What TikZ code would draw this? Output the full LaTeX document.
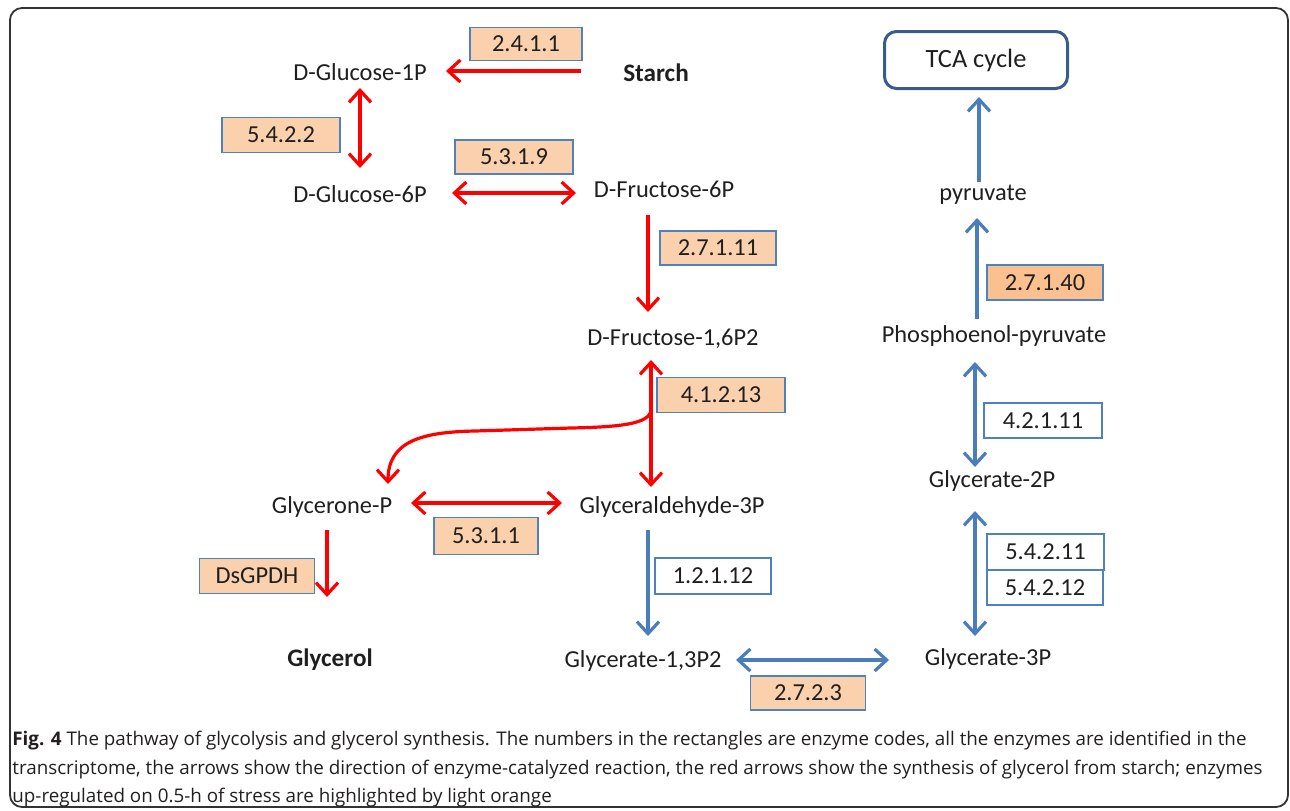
\documentclass[tikz,border=0pt]{standalone}
\usepackage{fontspec}
\setmainfont{Carlito}
\newfontfamily\capfont{Open Sans}
\usetikzlibrary{arrows.meta,calc}
\definecolor{lorange}{HTML}{FBD0AC}
\definecolor{dorange}{HTML}{FAC08F}
\definecolor{boxblue}{HTML}{4F81BD}
\definecolor{arrblue}{HTML}{4A7EBB}
\definecolor{tcablue}{HTML}{385D8A}
\definecolor{captxt}{HTML}{231F20}
\begin{document}
\begin{tikzpicture}[x=0.5pt,y=-0.5pt,
  >={Straight Barb[length=6pt,width=11pt]},
  lbl/.style={inner sep=0pt, font=\fontsize{12.2}{14}\selectfont, text=black!88},
  blbl/.style={lbl, font=\fontsize{12.6}{14}\selectfont\bfseries},
  enz/.style={draw=boxblue, line width=0.75pt, fill=lorange, inner sep=0pt,
    font=\fontsize{12.2}{14}\selectfont, text=black!88},
  enzw/.style={enz, fill=white},
  enzd/.style={enz, fill=dorange},
  redarr/.style={draw=red, line width=1.6pt},
  bluarr/.style={draw=arrblue, line width=1.6pt},
  capline/.style={anchor=base west, inner sep=0pt, text=captxt,
    font=\capfont\fontsize{9.4}{11}\selectfont}
]
\useasboundingbox (0,0) rectangle (1290,810);
\draw[line width=0.9pt, draw=black!80, rounded corners=6pt] (10,8) rectangle (1288,807);

% metabolites
\node[lbl]  (g1p) at (360,72) {D-Glucose-1P};
\node[blbl] (starch) at (656,73) {Starch};
\node[lbl]  (g6p) at (360,194) {D-Glucose-6P};
\node[lbl]  (f6p) at (664,189) {D-Fructose-6P};
\node[lbl]  (f16) at (673,339) {D-Fructose-1,6P2};
\node[lbl]  (gp) at (332,507) {Glycerone-P};
\node[lbl]  (gap) at (672,507) {Glyceraldehyde-3P};
\node[blbl] (glycerol) at (330,660) {Glycerol};
\node[lbl]  (g13) at (643,661) {Glycerate-1,3P2};
\node[lbl]  (g3p) at (988,659) {Glycerate-3P};
\node[lbl]  (g2p) at (992,481) {Glycerate-2P};
\node[lbl]  (pep) at (994,336) {Phosphoenol-pyruvate};
\node[lbl]  (pyr) at (983,195) {pyruvate};
\node[draw=tcablue, line width=1.5pt, rounded corners=6pt, minimum width=91.5pt,
  minimum height=28.5pt, inner sep=0pt, font=\fontsize{13.2}{15}\selectfont, text=black!88]
  (tca) at (976,60) {TCA cycle};

% enzymes
\node[enz, minimum width=56pt, minimum height=16.5pt] (e2411) at (526,44) {2.4.1.1};
\node[enz, minimum width=59pt, minimum height=17.5pt] (e5422) at (281,135) {5.4.2.2};
\node[enz, minimum width=59pt, minimum height=17pt] (e5319) at (514,157) {5.3.1.9};
\node[enz, minimum width=58pt, minimum height=17pt] (e27111) at (718,248) {2.7.1.11};
\node[enz, minimum width=64pt, minimum height=17.5pt] (e41213) at (721,395) {4.1.2.13};
\node[enz, minimum width=52pt, minimum height=18.5pt] (e5311) at (486,536) {5.3.1.1};
\node[enz, minimum width=57.5pt, minimum height=17.5pt] (dsgpdh) at (257,576) {DsGPDH};
\node[enzw, minimum width=58pt, minimum height=18pt] (e12112) at (713,576) {1.2.1.12};
\node[enz, minimum width=57.5pt, minimum height=17pt] (e2723) at (808,693) {2.7.2.3};
\node[enzw, minimum width=58.5pt, minimum height=18pt] (e54211) at (1045.5,552) {5.4.2.11};
\node[enzw, minimum width=58pt, minimum height=17.5pt] (e54212) at (1045,587.5) {5.4.2.12};
\node[enzw, minimum width=59pt, minimum height=17.5pt] (e42111) at (1043,420.5) {4.2.1.11};
\node[enzd, minimum width=58pt, minimum height=17.5pt] (e27140) at (1045,282.5) {2.7.1.40};

% red arrows
\draw[redarr, ->] ($(starch)+(-75,-2)$) -- ($(g1p)+(86,-1)$);
\draw[redarr, <->] ($(g1p)+(0,16)$) -- ($(g6p)+(0,-26)$);
\draw[redarr, <->] ($(g6p)+(92,-1)$) -- ($(f6p)+(-88,4)$);
\draw[redarr, ->] ($(f6p)+(-16,26)$) -- ($(f16)+(-25,-27)$);
\draw[redarr, <->] ($(f16)+(-22,21)$) -- ($(gap)+(-21,-20)$);
\coordinate (split) at ($(f16)+(-22,73)$);
\draw[redarr, ->] (split) .. controls ($(split)+(-5,12)$) and ($(split)+(-31,15)$) .. ($(split)+(-80,16)$)
  -- ($(split)+(-176,19)$)
  .. controls ($(split)+(-231,20)$) and ($(gp)+(56,-65)$) .. ($(gp)+(56,-23)$);
\draw[redarr, <->] ($(gp)+(79,-4)$) -- ($(gap)+(-110,-4)$);
\draw[redarr, ->] ($(gp)+(-5,23)$) -- ($(glycerol)+(-3,-63)$);

% blue arrows
\draw[bluarr, ->] ($(gap)+(-24,23)$) -- ($(g13)+(5,-25)$);
\draw[bluarr, <->] ($(g13)+(93,-1)$) -- ($(g3p)+(-99,1)$);
\draw[bluarr, <->] ($(g3p)+(-13,-23)$) -- ($(g2p)+(-17,30)$);
\draw[bluarr, <->] ($(g2p)+(-17,-14)$) -- ($(pep)+(-19,26)$);
\draw[bluarr, ->] ($(pep)+(-17,-17)$) -- ($(pyr)+(-6,23)$);
\draw[bluarr, ->] ($(pyr)+(-4,-13)$) -- ($(tca.south)+(3,7)$);

% caption
\node[capline] (c1) at (12,745) {{\bfseries Fig. 4} The pathway of glycolysis and glycerol synthesis. The numbers in the rectangles are enzyme codes, all the enzymes are identified in the};
\node[capline] (c2) at (12,774) {transcriptome, the arrows show the direction of enzyme-catalyzed reaction, the red arrows show the synthesis of glycerol from starch; enzymes};
\node[capline] (c3) at (12,802) {up-regulated on 0.5-h of stress are highlighted by light orange};
\end{tikzpicture}
\end{document}
